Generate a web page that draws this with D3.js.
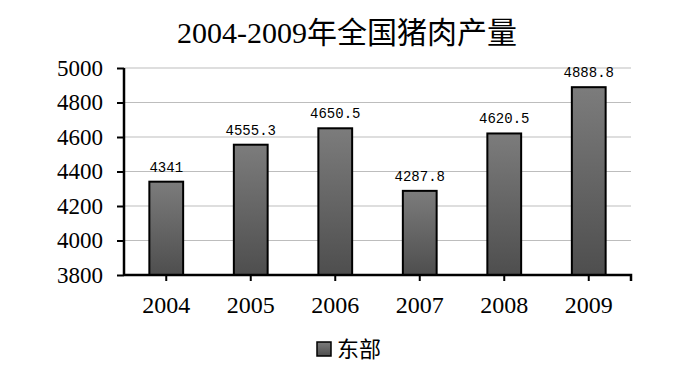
<!DOCTYPE html>
<html>
<head>
<meta charset="utf-8">
<script src="https://cdn.jsdelivr.net/npm/d3@7"></script>
<style>
  body { margin: 0; background: #fff; }
  text { fill: #000; }
</style>
</head>
<body>
<div id="chart"></div>
<script>
// data
var years = ["2004", "2005", "2006", "2007", "2008", "2009"];
var output = [4341, 4555.3, 4650.5, 4287.8, 4620.5, 4888.8];
var valueLabels = ["4341", "4555.3", "4650.5", "4287.8", "4620.5", "4888.8"];
var yTicks = [3800, 4000, 4200, 4400, 4600, 4800, 5000];
var seriesName = "东部";
var title = "2004-2009年全国猪肉产量";

var W = 680, H = 385;
var margin = {top: 68, right: 49, bottom: 110, left: 124};
var width = W - margin.left - margin.right,
    height = H - margin.top - margin.bottom;

var serif = "'Liberation Serif', 'Noto Sans CJK SC', serif";

var svg = d3.select("#chart").append("svg")
    .attr("width", W)
    .attr("height", H);

var defs = svg.append("defs");
var grad = defs.append("linearGradient")
    .attr("id", "barFill")
    .attr("x1", 0).attr("y1", 0).attr("x2", 0).attr("y2", 1);
grad.append("stop").attr("offset", "0%").attr("stop-color", "#7c7c7c");
grad.append("stop").attr("offset", "100%").attr("stop-color", "#4e4e4e");

svg.append("text")
    .attr("x", W / 2 + 7)
    .attr("y", 43)
    .attr("text-anchor", "middle")
    .attr("font-family", serif)
    .attr("font-size", 30)
    .text(title);

var g = svg.append("g")
    .attr("transform", "translate(" + margin.left + "," + margin.top + ")");

var x = d3.scaleBand()
    .domain(years)
    .range([0, width])
    .paddingInner(0.6)
    .paddingOuter(0.3);

var y = d3.scaleLinear()
    .domain([3800, 5000])
    .range([height, 0]);

// gridlines
g.append("g")
    .selectAll("line")
    .data(yTicks.slice(1))
    .join("line")
    .attr("x1", 0)
    .attr("x2", width)
    .attr("y1", d => y(d))
    .attr("y2", d => y(d))
    .attr("stroke", "#bdbdbd")
    .attr("stroke-width", 1);

// bars
g.append("g")
    .selectAll("rect")
    .data(output)
    .join("rect")
    .attr("x", (d, i) => x(years[i]))
    .attr("y", d => y(d))
    .attr("width", x.bandwidth())
    .attr("height", d => height - y(d))
    .attr("fill", "url(#barFill)")
    .attr("stroke", "#000")
    .attr("stroke-width", 2);

// value labels
g.append("g")
    .selectAll("text")
    .data(output)
    .join("text")
    .attr("x", (d, i) => x(years[i]) + x.bandwidth() / 2)
    .attr("y", d => y(d) - 10)
    .attr("text-anchor", "middle")
    .attr("font-family", "'Liberation Mono', monospace")
    .attr("font-size", 14)
    .text((d, i) => valueLabels[i]);

// y axis
var yAxis = g.append("g")
    .call(d3.axisLeft(y).tickValues(yTicks).tickSize(7).tickPadding(14).tickFormat(d3.format("d")))
    .attr("font-family", serif)
    .attr("font-size", 23);
yAxis.select(".domain").attr("stroke", "#000").attr("stroke-width", 2.5)
    .attr("d", "M0," + height + "V0");
yAxis.selectAll(".tick line").attr("stroke", "#000").attr("stroke-width", 2);

// x axis
var xAxis = g.append("g")
    .attr("transform", "translate(0," + height + ")")
    .call(d3.axisBottom(x).tickSize(6).tickPadding(15))
    .attr("font-family", serif)
    .attr("font-size", 24);
xAxis.select(".domain").attr("stroke", "#000").attr("stroke-width", 2.5)
    .attr("d", "M0,0H" + width + "V6");
xAxis.selectAll(".tick line").attr("stroke", "#000").attr("stroke-width", 2);

// legend
var legend = svg.append("g")
    .attr("transform", "translate(317,342)");
legend.append("rect")
    .attr("width", 14)
    .attr("height", 14)
    .attr("fill", "url(#barFill)")
    .attr("stroke", "#000")
    .attr("stroke-width", 1.5);
legend.append("text")
    .attr("x", 20)
    .attr("y", 7)
    .attr("dy", "0.35em")
    .attr("font-family", serif)
    .attr("font-size", 22)
    .text(seriesName);
</script>
</body>
</html>
